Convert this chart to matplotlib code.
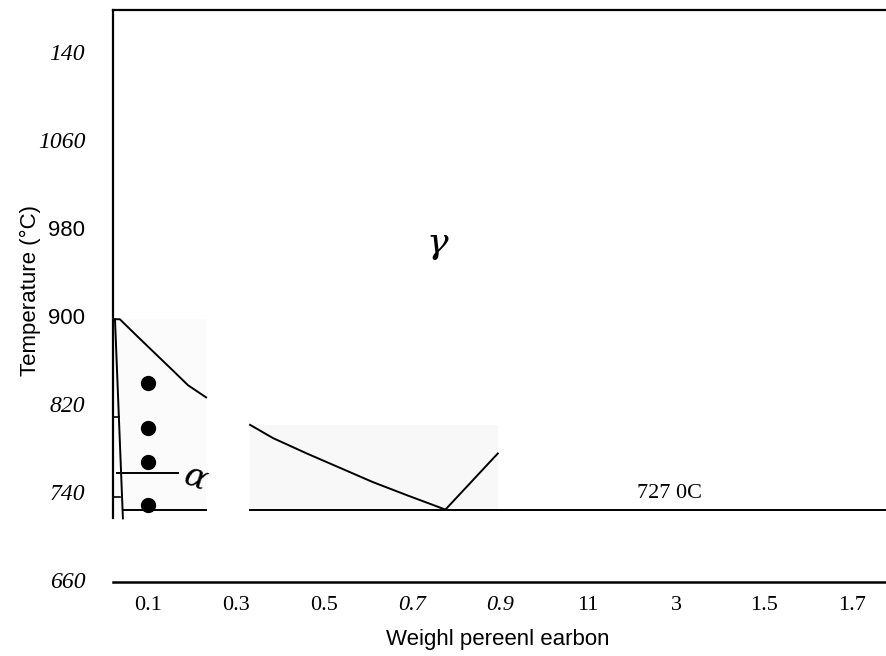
import numpy as np
import matplotlib.pyplot as plt

temp_ticks = [1140, 1060, 980, 900, 820, 740, 660]
temp_labels = ['140', '1060', '980', '900', '820', '740', '660']
carb_ticks = [0.1, 0.3, 0.5, 0.7, 0.9, 1.1, 1.3, 1.5, 1.7]
carb_labels = ['0.1', '0.3', '0.5', '0.7', '0.9', '11', '3', '1.5', '1.7']

# ligne A3 (deux morceaux, coupés par la bande blanche)
a3_c1 = [0.024, 0.036, 0.077, 0.116, 0.155, 0.191, 0.232]
a3_t1 = [897, 897, 881, 866, 851, 837, 826]
a3_c2 = [0.332, 0.384, 0.461, 0.536, 0.611, 0.689, 0.776]
a3_t2 = [801, 789, 775, 762, 749, 737, 724]
# ligne Acm
acm_c = [0.776, 0.895]
acm_t = [724, 775]
# ligne eutectoïde 727
eut_c1 = [0.043, 0.232]
eut_c2 = [0.332, 1.78]
eut_t = 724
# solvus alpha
alpha_c = [0.025, 0.043]
alpha_t = [897, 716]
# points
pts_c = [0.1, 0.1, 0.1, 0.1]
pts_t = [839, 798, 767, 728]

fig = plt.figure(figsize=(8.87, 6.56), dpi=100)
ax = fig.add_axes([113/887, 74/656, 1 - 113/887, 572/656])
ax.set_xlim(0.0205, 1.7795)
ax.set_ylim(658.2, 1178)

# zones grisées très pâles
ax.fill_between([0.025, 0.232], 724, 897, color='#fbfbfb', lw=0, zorder=0)
ax.fill_between([0.332, 0.895], 724, 801, color='#f8f8f8', lw=0, zorder=0)

k = dict(color='black', lw=1.4)
ax.plot(a3_c1, a3_t1, **k)
ax.plot(a3_c2, a3_t2, **k)
ax.plot(acm_c, acm_t, **k)
ax.plot(eut_c1, [eut_t, eut_t], **k)
ax.plot(eut_c2, [eut_t, eut_t], **k)
ax.plot(alpha_c, alpha_t, **k)
ax.plot([0.029, 0.168], [757, 757], **k)
ax.plot([0.0225, 0.035], [808, 808], color='black', lw=1.2)
ax.plot([0.0225, 0.036], [735, 735], color='black', lw=1.2)
ax.plot(pts_c, pts_t, 'o', color='black', ms=10)

ax.text(0.207, 752, 'α', fontsize=24, style='italic', ha='center', va='center',
        family='DejaVu Serif', rotation=-20)
ax.text(0.757, 966, 'γ', fontsize=26, style='italic', ha='center', va='center',
        family='DejaVu Serif')
ax.text(1.286, 739, '727 0C', fontsize=16, ha='center', va='center',
        family='Liberation Serif')

ax.spines['right'].set_visible(False)
ax.spines['left'].set_bounds(716, 1178)
ax.spines['left'].set_linewidth(1.6)
ax.spines['top'].set_linewidth(1.6)
ax.spines['bottom'].set_linewidth(1.8)

ax.set_yticks(temp_ticks)
ax.set_yticklabels(temp_labels)
ax.set_xticks(carb_ticks)
ax.set_xticklabels(carb_labels)
ax.tick_params(axis='y', length=0, pad=20)
ax.tick_params(axis='x', length=0, pad=10)

for lab in ax.get_yticklabels():
    if lab.get_text() in ('980', '900'):
        lab.set_family('Liberation Sans')
        lab.set_fontsize(16)
    else:
        lab.set_family('Liberation Serif')
        lab.set_style('italic')
        lab.set_fontsize(17)
for lab in ax.get_xticklabels():
    lab.set_family('Liberation Serif')
    lab.set_fontsize(16)
    if lab.get_text() in ('0.7', '0.9'):
        lab.set_style('italic')

fig.text(30/887, 1 - 290/656, 'Temperature (°C)', rotation=90, ha='center', va='center',
         fontsize=16, family='Liberation Sans')
fig.text(498/887, 1 - 640/656, 'Weighl pereenl earbon', ha='center', va='center',
         fontsize=16, family='Liberation Sans')

fig.savefig('out.png', dpi=100)
